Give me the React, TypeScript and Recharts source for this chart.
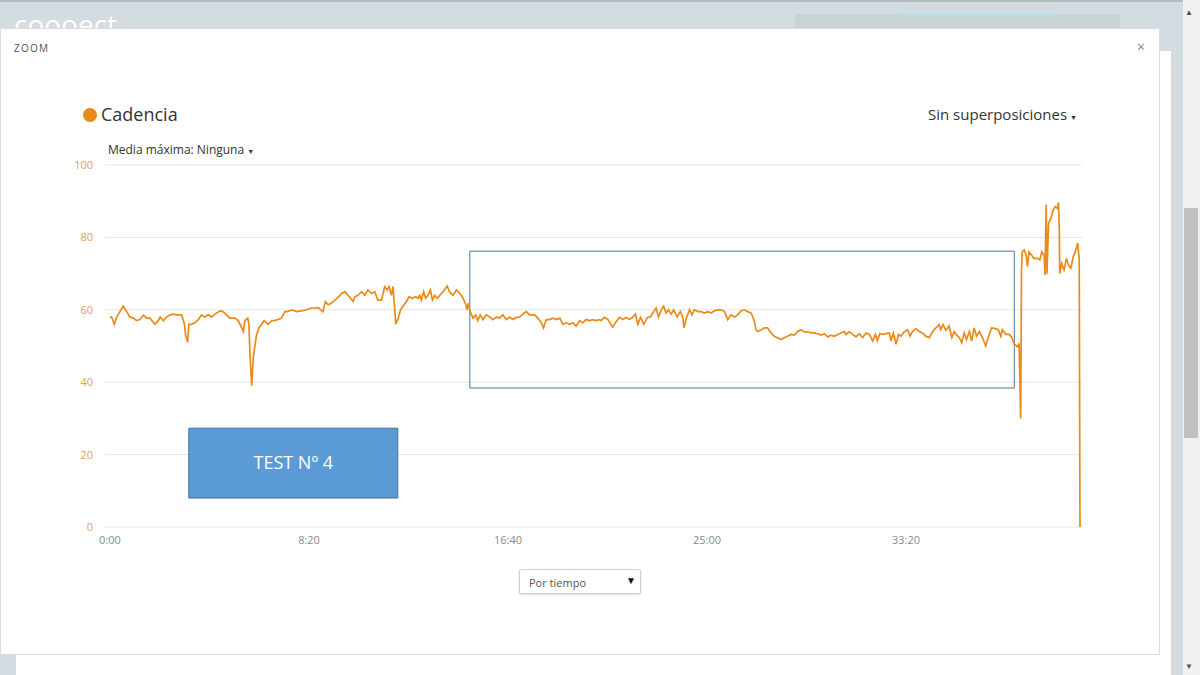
import React from 'react';
import { LineChart, Line, XAxis, YAxis, CartesianGrid, ReferenceArea } from 'recharts';

// elapsed time (s) and cadence (rpm)
const seconds = [
  0, 4, 11, 17, 25, 33, 42, 50, 59, 67, 75, 84, 92, 100, 113, 121, 126, 134, 142, 151, 159, 167, 180, 187, 190, 195, 198,
  205, 213, 222, 230, 238, 247, 255, 264, 276, 284, 293, 301, 314, 322, 331, 335, 339, 346, 349, 352, 356, 360, 364, 368,
  374, 381, 387, 397, 406, 414, 422, 431, 439, 447, 456, 469, 481, 494, 506, 515, 523, 535, 541, 548, 556, 565, 573, 582,
  590, 598, 611, 615,
  623, 632, 640, 648, 657, 665, 673, 682, 690, 696, 701, 707, 711, 715, 718, 724, 730, 736, 745, 751, 760, 768, 774, 778,
  782, 788, 793, 799, 805, 810, 816, 822, 828, 837, 847, 853, 862, 870, 879, 887, 894, 897, 900, 905, 912, 919, 924, 930,
  937, 945, 954, 962, 971, 979, 987, 996, 1004, 1012, 1021, 1029, 1037, 1046, 1054, 1067, 1075, 1084, 1089, 1096, 1104,
  1113, 1121, 1130, 1138, 1146, 1155, 1163, 1171, 1180, 1188, 1196, 1205, 1213, 1222, 1230,
  1234, 1242, 1251, 1263, 1272, 1280, 1288, 1297, 1305, 1313, 1320, 1326, 1333, 1341, 1350, 1358, 1366, 1372, 1378, 1385,
  1391, 1397, 1403, 1410, 1416, 1425, 1433, 1439, 1442, 1448, 1456, 1462, 1468, 1477, 1485, 1493, 1502, 1510, 1519, 1527,
  1535, 1544, 1552, 1560, 1569, 1577, 1585, 1594, 1602, 1611, 1619, 1623, 1627, 1636, 1644, 1652, 1661, 1669, 1677, 1686,
  1694, 1702, 1711, 1719, 1728, 1736, 1744, 1753, 1761, 1769, 1778, 1786, 1795, 1803, 1811, 1820, 1828, 1836, 1845,
  1849, 1857, 1866, 1874, 1883, 1891, 1899, 1908, 1916, 1923, 1928, 1934, 1941, 1949, 1958, 1962, 1968, 1975, 1981, 1987,
  1995, 2004, 2010, 2016, 2025, 2033, 2041, 2050, 2058, 2067, 2075, 2083, 2087, 2093, 2100, 2108, 2115, 2121, 2127, 2134,
  2140, 2146, 2152, 2159, 2165, 2171, 2177, 2184, 2192, 2200, 2209, 2215, 2224, 2232, 2238, 2242, 2251, 2259, 2266, 2272,
  2280, 2284, 2288, 2290, 2292, 2297, 2302, 2305, 2309, 2316, 2321, 2330, 2336, 2341, 2347, 2349, 2352, 2354, 2358, 2364,
  2370, 2375, 2380, 2383, 2385, 2386, 2391, 2397, 2403, 2408, 2414, 2420, 2425, 2431, 2435, 2437,
];

const cadence = [
  58, 58, 56, 58, 59.5, 61, 59.5, 58, 57.7, 57, 57.3, 58.5, 57.7, 57.7, 56, 57, 58, 57, 58, 58.6, 58.8, 58.6, 58.6, 56, 53, 51, 56,
  56, 56.4, 57.3, 58.6, 58, 58.6, 58, 58.8, 59.7, 59.5, 58.6, 57.7, 57.7, 57, 55, 54, 57, 57.7, 56, 47, 39, 47, 50, 53,
  55, 56, 57, 56, 57, 57, 57.3, 57.7, 59.5, 59.5, 60, 59.5, 59.7, 60, 60.5, 60.5, 60.6, 59.5, 62.3, 61.4, 61.8, 62.7, 63.4, 64.5,
  65, 64, 62.3, 63.6,
  64, 65, 64, 65.5, 64.5, 65, 62.7, 62.7, 66.4, 65.5, 66.4, 64, 66.4, 60.5, 56, 57.7, 60, 61, 62.3, 63.6, 63.2, 63.6, 63.2, 64,
  62.7, 65, 63.2, 64, 65.5, 62.7, 64, 63.2, 63.9, 65, 66.6, 65, 64, 65.5, 64.5, 63.2, 61.4, 60, 61.8, 59.5, 57.7, 58.6, 57, 58.6,
  57.3, 58.6, 58, 57.3, 58, 57.7, 58.6, 57.3, 58, 57.3, 57.9, 58, 58.8, 59.5, 58.6, 58.6, 57.7, 56.4, 55, 57.3, 57.3,
  57.7, 57.3, 57.7, 56, 56.4, 56, 56.4, 55.5, 57, 56.4, 57.3, 57, 57.3, 57, 57.3,
  57, 57.9, 57.3, 55.2, 56.8, 57.9, 57.3, 57.9, 57.3, 57.9, 58.8, 56, 57.9, 56, 57.9, 58, 59.5, 60.5, 58, 60,
  61, 59.1, 60, 58.8, 60, 58, 59.5, 58, 55, 57.7, 60, 58.6, 60, 59.5, 59.5, 59.1, 59.5, 59.1, 59.7, 60,
  60, 59.5, 57.3, 58.6, 58, 58.6, 59.7, 60, 59.5, 59.1, 56.8, 54.5, 54, 54.5, 55, 55, 53.6, 52.7, 52.3, 51.8,
  52.3, 52.7, 53.2, 53, 54, 54.5, 53.9, 53.9, 53.6, 53.6, 53.4, 53, 53.4, 52.5, 53, 52.7, 53.2, 53.6, 54,
  53.2, 53.9, 53.2, 52.5, 53.4, 52.3, 53.6, 53.2, 51.4, 53.2, 51.5, 53.4, 53.2, 53.4, 53.6, 51.4, 53.6, 50.5, 53.2, 52.7,
  53.9, 54.5, 52.7, 54, 54.8, 54, 53.6, 52.7, 52.3, 54, 55, 55.9, 54.5, 55.9, 54.3, 55.5, 52.3, 54, 53, 52.3,
  50.9, 53.6, 51.8, 54, 51.4, 55, 52.7, 54, 52.3, 50, 53.2, 55, 54.8, 54.5, 52.7, 54.5, 53.2, 53.2, 52.3, 50.5,
  49.8, 50.7, 30, 71, 76, 76.5, 75, 72, 76, 75, 74.2, 74.2, 73.8, 76, 75, 69.6, 89, 70, 83.9, 85.3,
  87.6, 88.5, 88, 89.6, 82, 70, 72.8, 71, 74.2, 72.4, 71.5, 74.7, 76, 78.4, 74.2, 0,
];

const xTicks = [0, 500, 1000, 1500, 2000];
const yTicks = [0, 20, 40, 60, 80, 100];

// selection box drawn over the middle of the ride, and the pasted label box
const selection = { x1: 904, x2: 2272, y1: 38.4, y2: 76.2 };
const testBox = { x1: 198, x2: 723, y1: 8, y2: 27.3, text: 'TEST Nº 4' };

const data = seconds.map((t, i) => ({ t, c: cadence[i] }));

const fmtTime = (s: number) => {
  const m = Math.floor(s / 60);
  const r = s % 60;
  return `${m}:${r < 10 ? '0' : ''}${r}`;
};

const FONT = '"Open Sans", "Noto Sans", sans-serif';
const ORANGE = '#ea8a17';

export default function App() {
  return (
    <div style={{ position: 'absolute', left: 0, top: 0, width: 1200, height: 675, background: '#d3dce0', overflow: 'hidden', fontFamily: FONT }}>
      <div style={{ position: 'absolute', left: 0, top: 0, width: 1200, height: 2, background: '#b5bcc0' }} />
      {/* page behind the modal; the logo is mostly hidden by the modal */}
      <div style={{ position: 'absolute', left: 14, top: 12, width: 130, height: 16, overflow: 'hidden' }}>
        <div style={{ color: '#fff', fontSize: 28, lineHeight: '28px', marginTop: -2 }}>coooect</div>
      </div>
      <div style={{ position: 'absolute', left: 795, top: 14, width: 325, height: 16, background: '#c9d2d6' }} />
      <div style={{ position: 'absolute', left: 900, top: 12, width: 155, height: 3, background: '#bfe0ea' }} />
      <div style={{ position: 'absolute', left: 15, top: 50, width: 1155, height: 640, background: '#fff', border: '1px solid #d8d8d8' }} />
      {/* scrollbar */}
      <div style={{ position: 'absolute', left: 1183, top: 0, width: 17, height: 675, background: '#f1f1f1' }} />
      <div style={{ position: 'absolute', left: 1184, top: 208, width: 14, height: 230, background: '#c1c1c1' }} />
      <div style={{ position: 'absolute', left: 1185, top: 6, fontSize: 8, color: '#505050' }}>▲</div>
      <div style={{ position: 'absolute', left: 1185, top: 660, fontSize: 8, color: '#505050' }}>▼</div>

      {/* modal */}
      <div style={{ position: 'absolute', left: 0, top: 28, width: 1160, height: 627, background: '#fff', border: '1px solid #dcdcdc', boxSizing: 'border-box' }}>
        <div style={{ position: 'absolute', left: 13, top: 12, fontSize: 10, letterSpacing: 1.2, color: '#555' }}>ZOOM</div>
        <div style={{ position: 'absolute', left: 1136, top: 8, fontSize: 14, color: '#888' }}>×</div>
      </div>

      <div style={{ position: 'absolute', left: 83, top: 108, width: 14, height: 14, borderRadius: 7, background: ORANGE }} />
      <div style={{ position: 'absolute', left: 101, top: 102, fontSize: 18, color: '#333', lineHeight: '24px' }}>Cadencia</div>
      <div style={{ position: 'absolute', left: 928, top: 104, fontSize: 15, color: '#333', lineHeight: '20px' }}>
        Sin superposiciones<span style={{ fontSize: 7, marginLeft: 3 }}>▼</span>
      </div>
      <div style={{ position: 'absolute', left: 108, top: 142, fontSize: 12, color: '#333', lineHeight: '16px' }}>
        Media máxima: Ninguna <span style={{ fontSize: 7 }}>▼</span>
      </div>

      <div style={{ position: 'absolute', left: 0, top: 0 }}>
        <LineChart width={1160} height={600} data={data} margin={{ top: 165, right: 78, bottom: 43, left: 0 }}>
          <CartesianGrid vertical={false} stroke="#e6e6e6" />
          <XAxis
            dataKey="t"
            type="number"
            domain={[0, 2437]}
            ticks={xTicks}
            tickFormatter={fmtTime}
            axisLine={false}
            tickLine={false}
            tickSize={0}
            tickMargin={9}
            height={30}
            padding={{ left: 5, right: 2 }}
            tick={{ fill: '#8a8a8a', fontSize: 11, fontFamily: FONT }}
          />
          <YAxis
            type="number"
            domain={[0, 100]}
            ticks={yTicks}
            axisLine={false}
            tickLine={false}
            tickSize={0}
            tickMargin={12}
            width={105}
            tick={{ fill: '#e3a24a', fontSize: 11, fontFamily: FONT }}
          />
          <ReferenceArea
            x1={testBox.x1}
            x2={testBox.x2}
            y1={testBox.y1}
            y2={testBox.y2}
            fill="#5b9bd5"
            fillOpacity={1}
            stroke="#41719c"
            strokeWidth={1}
            label={{ value: testBox.text, position: 'center', fill: '#fff', fontSize: 18, fontFamily: FONT }}
          />
          <ReferenceArea
            x1={selection.x1}
            x2={selection.x2}
            y1={selection.y1}
            y2={selection.y2}
            fill="none"
            fillOpacity={0}
            stroke="#4f7891"
            strokeWidth={1}
          />
          <Line
            type="linear"
            dataKey="c"
            stroke={ORANGE}
            strokeWidth={1.7}
            dot={false}
            activeDot={false}
            isAnimationActive={false}
          />
        </LineChart>
      </div>

      <div style={{ position: 'absolute', left: 519, top: 569, width: 122, height: 25, boxSizing: 'border-box', border: '1px solid #cfcfcf', borderRadius: 2, boxShadow: '0 1px 2px rgba(0,0,0,0.15)', background: '#fff' }}>
        <div style={{ position: 'absolute', left: 9, top: 5, fontSize: 11, color: '#555' }}>Por tiempo</div>
        <div style={{ position: 'absolute', left: 106, top: 3, fontSize: 10, color: '#111' }}>▼</div>
      </div>
    </div>
  );
}
